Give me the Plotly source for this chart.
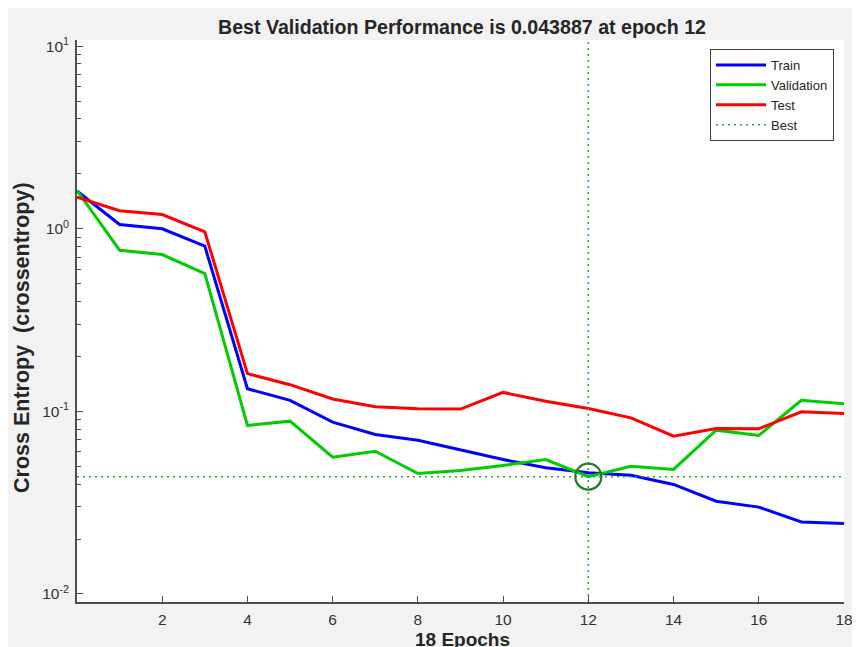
import plotly.graph_objects as go

epochs = list(range(0, 19))
train = [1.61, 1.056, 1.0, 0.803, 0.133, 0.115, 0.0873, 0.0747, 0.0695, 0.0618,
         0.0545, 0.0491, 0.0461, 0.0447, 0.0398, 0.0322, 0.0299, 0.0248, 0.0243]
validation = [1.62, 0.763, 0.723, 0.569, 0.0837, 0.0884, 0.0561, 0.0605, 0.0457, 0.0475,
              0.0506, 0.0545, 0.043887, 0.0501, 0.0481, 0.0789, 0.0738, 0.115, 0.110]
test = [1.49, 1.255, 1.197, 0.963, 0.161, 0.140, 0.117, 0.106, 0.1033, 0.103,
        0.127, 0.1137, 0.1037, 0.0922, 0.0731, 0.0806, 0.0803, 0.0995, 0.0974]
best_epoch = 12
best_perf = 0.043887
x_range = [0, 18]
y_log_range = [-2.044, 1.034]
x_tickvals = [2, 4, 6, 8, 10, 12, 14, 16, 18]
y_tickvals = [0.01, 0.1, 1, 10]
y_ticktext = ["10<sup>-2</sup>", "10<sup>-1</sup>", "10<sup>0</sup>", "10<sup>1</sup>"]

FONT = "Liberation Sans, Arial, Helvetica, sans-serif"
BEST_COLOR = "#2f9e3a"

fig = go.Figure()
fig.add_trace(go.Scatter(x=epochs, y=train, mode="lines", name="Train",
                         line=dict(color="#0000ff", width=3)))
fig.add_trace(go.Scatter(x=epochs, y=validation, mode="lines", name="Validation",
                         line=dict(color="#00cc00", width=3)))
fig.add_trace(go.Scatter(x=epochs, y=test, mode="lines", name="Test",
                         line=dict(color="#ff0000", width=3)))
# best lines
fig.add_trace(go.Scatter(x=x_range, y=[best_perf, best_perf], mode="lines", name="Best",
                         line=dict(color=BEST_COLOR, width=1.5, dash="2px,4px")))
fig.add_trace(go.Scatter(x=[best_epoch, best_epoch],
                         y=[10 ** y_log_range[0], 10 ** y_log_range[1]],
                         mode="lines", showlegend=False,
                         line=dict(color=BEST_COLOR, width=1.5, dash="2px,4px")))
fig.add_trace(go.Scatter(x=[best_epoch], y=[best_perf], mode="markers", showlegend=False,
                         marker=dict(symbol="circle-open", size=26,
                                     line=dict(color="#1e7b26", width=2.2),
                                     color="#1e7b26")))

# page body has an 8px margin; positions below are in page pixels
OFF = 8
W, H = 852, 639  # figure size so that the page (with body margin) fills 860x647
PL, PR, PT, PB = 77, 844, 40, 602  # plot area in page pixels
L, R, T, B = PL - OFF, W - (PR - OFF), PT - OFF, H - (PB - OFF)
pw, ph = PR - PL, PB - PT


def px_to_paper_x(px):
    return (px - PL) / pw


def px_to_paper_y(py):
    return (PB - py) / ph


fig.update_layout(
    width=W, height=H, autosize=False,
    margin=dict(l=L, r=R, t=T, b=B, pad=0),
    paper_bgcolor="#f2f2f2",
    plot_bgcolor="#ffffff",
    font=dict(family=FONT, size=15, color="#262626"),
    title=dict(text="<b>Best Validation Performance is 0.043887 at epoch 12</b>",
               x=px_to_paper_x(462), xref="paper", xanchor="center",
               y=1 - (27 - OFF) / H, yref="container", yanchor="middle",
               font=dict(size=19.6, color="#262626", family=FONT)),
    showlegend=True,
    legend=dict(x=px_to_paper_x(834), y=px_to_paper_y(49), xanchor="right", yanchor="top",
                bgcolor="#ffffff", bordercolor="#404040", borderwidth=1,
                font=dict(size=13, color="#262626", family=FONT),
                itemwidth=50, tracegroupgap=0),
    xaxis=dict(range=x_range, tickvals=x_tickvals, ticks="inside", ticklen=6,
               tickcolor="#4d4d4d", tickwidth=1.2, showline=True, linecolor="#4d4d4d",
               linewidth=1.5, mirror=False, showgrid=False, zeroline=False,
               ticklabelstandoff=3, automargin=False,
               tickfont=dict(size=15.5, color="#333333", family=FONT)),
    yaxis=dict(type="log", range=y_log_range, tickvals=y_tickvals, ticktext=y_ticktext,
               ticks="inside", ticklen=6, tickcolor="#4d4d4d", tickwidth=1.2,
               showline=True, linecolor="#4d4d4d", linewidth=1.5, mirror=False,
               showgrid=False, zeroline=False, ticklabelstandoff=3, automargin=False,
               minor=dict(ticks="inside", ticklen=4, tickcolor="#4d4d4d", tickwidth=1.2,
                          dtick="D1", showgrid=False),
               tickfont=dict(size=15.5, color="#333333", family=FONT)),
    annotations=[
        dict(text="<b>18 Epochs</b>", xref="paper", yref="paper",
             x=px_to_paper_x(462), y=px_to_paper_y(639), xanchor="center", yanchor="middle",
             showarrow=False, font=dict(size=19, color="#262626", family=FONT)),
        dict(text="<b>Cross Entropy \u00a0(crossentropy)</b>", xref="paper", yref="paper",
             x=px_to_paper_x(22), y=px_to_paper_y(338), xanchor="center", yanchor="middle",
             textangle=-90, showarrow=False,
             font=dict(size=21.5, color="#262626", family=FONT)),
    ],
)

fig.write_html(
    "out.html",
    config={"responsive": False},
    post_script="document.documentElement.style.overflow='hidden';"
                "document.body.style.overflow='hidden';",
)
